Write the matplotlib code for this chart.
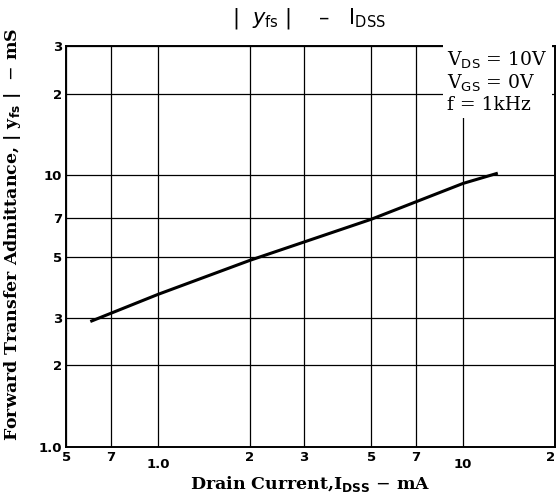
import numpy as np
import matplotlib.pyplot as plt
from matplotlib.transforms import ScaledTranslation

# ---------------------------
# Data
# ---------------------------
idss = [0.6, 1.0, 2.0, 5.0, 10.0, 13.0]  # mA
yfs = [2.9, 3.65, 4.87, 6.9, 9.35, 10.2]  # mS

x_ticks = [0.5, 0.7, 1.0, 2.0, 3.0, 5.0, 7.0, 10.0, 20.0]
x_labels = ["5", "7", "1.0", "2", "3", "5", "7", "10", "2"]
y_ticks = [1.0, 2.0, 3.0, 5.0, 7.0, 10.0, 20.0, 30.0]
y_labels = ["1.0", "2", "3", "5", "7", "10", "2", "3"]

fig = plt.figure(figsize=(5.56, 4.99), dpi=100)
ax = fig.add_axes([0.119, 0.104, 0.879, 0.804])

ax.set_xscale("log")
ax.set_yscale("log")
ax.set_xlim(0.5, 20)
ax.set_ylim(1.0, 30)

ax.plot(idss, yfs, color="black", lw=2.2, solid_capstyle="butt")

ax.set_xticks(x_ticks)
ax.set_xticklabels(x_labels)
ax.set_yticks(y_ticks)
ax.set_yticklabels(y_labels)
ax.minorticks_off()
ax.tick_params(length=0, labelsize=9.5, pad=3)
ax.grid(True, which="major", color="black", lw=0.9)
for s in ax.spines.values():
    s.set_linewidth(1.4)

for lbl in ax.get_xticklabels() + ax.get_yticklabels():
    lbl.set_fontweight("bold")
    lbl.set_family("DejaVu Sans")

xl = ax.get_xticklabels()
# "1.0" and "10" sit a little lower on the x axis
for i in (2, 7):
    xl[i].set_transform(xl[i].get_transform() + ScaledTranslation(0, -5 / 72, fig.dpi_scale_trans))
xl[-1].set_ha("right")

ax.set_xlabel(r"Drain Current,I$_{\mathbf{DSS}}$ $-$ mA", family="DejaVu Serif",
              fontweight="bold", fontsize=12.5, labelpad=2)
ax.set_ylabel(r"Forward Transfer Admittance, | y$_{\mathbf{fs}}$ |  $-$ mS",
              family="DejaVu Serif", fontweight="bold", fontsize=12.5)
ax.yaxis.set_label_coords(-0.088, 0.53)

fig.text(0.555, 0.962, r"|  $y_{\mathrm{fs}}$ |    –   I$_{\mathrm{DSS}}$",
         ha="center", va="center", fontsize=15)

ax.text(0.78, 0.99, "V$_{\\mathrm{DS}}$ = 10V\nV$_{\\mathrm{GS}}$ = 0V\nf = 1kHz",
        transform=ax.transAxes, ha="left", va="top", fontsize=13.5,
        family="DejaVu Serif", linespacing=1.1,
        bbox=dict(facecolor="white", edgecolor="none", pad=3))

plt.savefig("out.png", dpi=100)
